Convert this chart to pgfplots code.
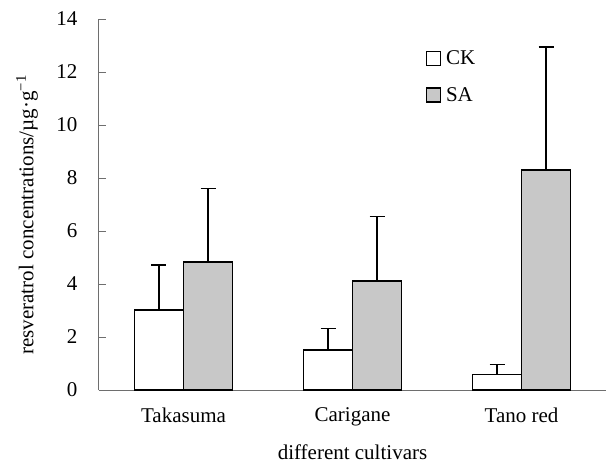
\documentclass[border=0pt]{standalone}
\usepackage{fontspec}
\setmainfont{Liberation Serif}
\usepackage{pgfplots}
\pgfplotsset{compat=1.18}
\definecolor{sagray}{RGB}{200,200,200}
\definecolor{axgray}{RGB}{110,110,110}
\begin{document}
\begin{tikzpicture}
\begin{axis}[
  name=ax,
  scale only axis,
  width=507pt, height=371pt,
  font=\fontsize{21}{25}\selectfont,
  /pgf/number format/assume math mode=true,
  xmin=-0.5, xmax=2.5,
  ymin=0, ymax=14,
  ytick={0,2,...,14},
  xtick={0,1,2},
  xticklabels={Takasuma,Carigane,Tano red},
  minor xtick={0.5,1.5},
  axis x line=bottom, axis y line=left,
  axis line style={-, axgray, line width=1pt},
  tick style={axgray, line width=1pt},
  xtick style={draw=none},
  minor x tick style={axgray, line width=1pt},
  minor tick length=6pt,
  major tick length=7pt,
  tick align=inside,
  yticklabel style={anchor=east, xshift=-18pt},
  xticklabel style={yshift=-7pt},
  ylabel={resveratrol concentrations/µg·g\textsuperscript{−1}},
  xlabel={different cultivars},
  every axis y label/.style={at={(axis description cs:-0.142,0.472)}, rotate=90, anchor=center},
  every axis x label/.style={at={(axis description cs:0.5,-0.167)}, anchor=center},
  ybar=0pt, bar width=49pt,
  legend style={draw=none, fill=none, at={(0.638,0.925)}, anchor=north west,
    row sep=17pt, font=\fontsize{21}{25}\selectfont,
    nodes={inner sep=2pt}},
  legend cell align=left,
  legend image code/.code={\draw[#1, line width=1.4pt] (0pt,-7pt) rectangle (14pt,7pt);},
  error bars/y dir=plus, error bars/y explicit,
  error bars/error mark=-,
  error bars/error mark options={rotate=90, line width=1.5pt, mark size=7.5pt, black},
  error bars/error bar style={line width=1.5pt, black},
]
\addplot[draw=black, fill=white, line width=1.6pt] coordinates {
  (0,3.02) +- (0,1.70)
  (1,1.51) +- (0,0.82)
  (2,0.59) +- (0,0.38)
};
\addplot[draw=black, fill=sagray, line width=1.6pt] coordinates {
  (0,4.82) +- (0,2.78)
  (1,4.11) +- (0,2.44)
  (2,8.30) +- (0,4.65)
};
\legend{\hspace{3pt}CK,\hspace{3pt}SA}
\end{axis}
\path (ax.north west) ++(-99pt,19pt);
\path (ax.south east) ++(1pt,-74pt);
\end{tikzpicture}
\end{document}
